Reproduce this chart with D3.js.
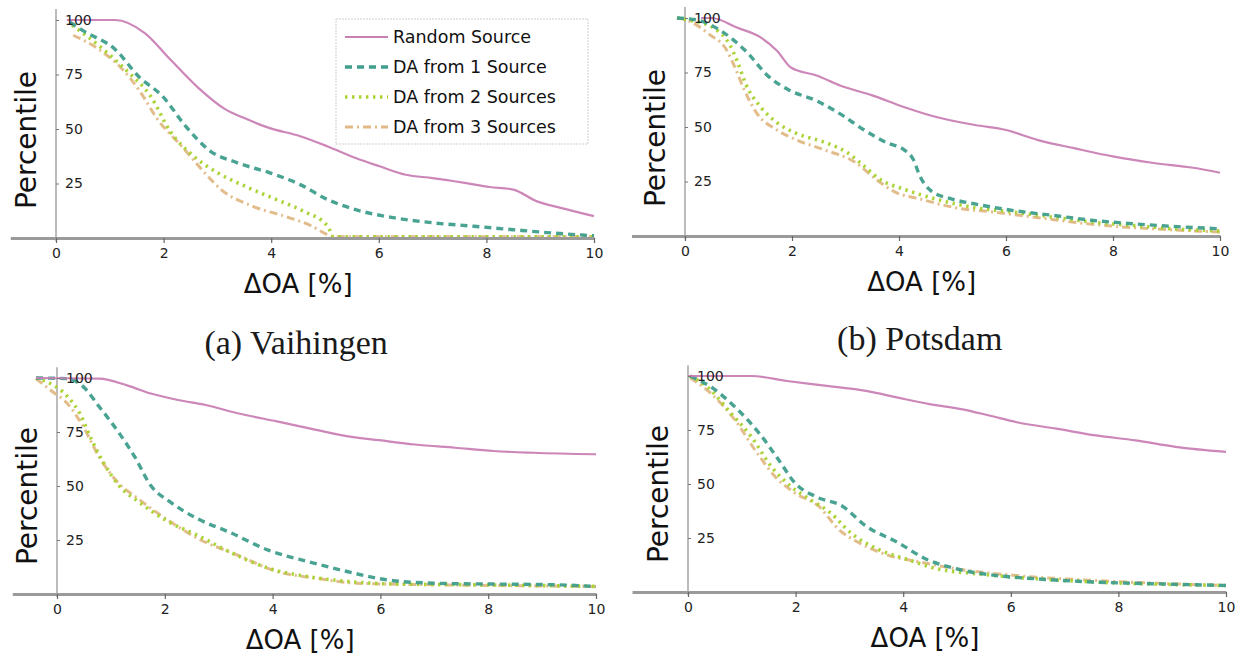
<!DOCTYPE html>
<html>
<head>
<meta charset="utf-8">
<script src="https://cdn.jsdelivr.net/npm/d3@7"></script>
<style>
  html, body { margin: 0; padding: 0; background: #ffffff; }
  svg { display: block; }
</style>
</head>
<body>
<svg class="d3-percentile-svg"></svg>
<script>
/* -------------------------------------------------------------------------- */
/*                        Percentile of ΔOA per dataset                       */
/* -------------------------------------------------------------------------- */

const seriesNames = ['Random Source', 'DA from 1 Source', 'DA from 2 Sources', 'DA from 3 Sources'];
const xTicks = [0, 2, 4, 6, 8, 10];
const yTicks = [25, 50, 75, 100];
const captions = ['(a) Vaihingen', '(b) Potsdam', '', ''];

// [ΔOA %, percentile]
const vaihRandom = [[0.2, 100], [1.1, 100], [1.65, 94], [2.12, 82], [2.64, 69], [3.15, 59], [3.5, 55], [3.96, 50.5], [4.54, 46.7], [5.05, 42], [5.57, 36.7], [6.0, 33], [6.5, 29], [7.0, 27.5], [7.6, 25.3], [8.06, 23.4], [8.5, 22.2], [8.94, 16.8], [9.38, 13.8], [10, 10]];
const vaihDa1 = [[0.26, 99], [0.51, 95], [1.1, 86.5], [1.54, 74], [1.98, 65], [2.42, 51], [2.86, 40], [3.37, 34.5], [3.96, 30], [4.54, 24.5], [5.05, 17.6], [5.57, 13], [6.3, 9.2], [7.03, 6.9], [7.77, 5.4], [8.5, 3.8], [9.23, 2.3], [10, 1]];
const vaihDa2 = [[0.3, 97.7], [0.88, 86.5], [1.32, 76.6], [1.76, 65], [2.12, 49], [2.56, 37.5], [3.0, 30], [3.52, 23.7], [4.1, 17.6], [4.6, 12.3], [5.05, 5.4], [5.16, 0.6], [10, 0.6]];
const vaihDa3 = [[0.32, 93], [0.8, 86.5], [1.25, 77], [1.54, 68], [1.9, 54], [2.34, 42], [2.71, 31.4], [3.08, 22], [3.66, 14.5], [4.25, 10], [4.76, 5.4], [5.05, 1.5], [5.2, 0.6], [10, 0.6]];

const potsRandom = [[0.3, 100], [0.5, 100], [0.98, 95.5], [1.42, 91], [1.72, 85], [1.98, 77.3], [2.46, 73.6], [2.9, 69], [3.5, 64.5], [4.09, 59.2], [4.68, 54.7], [5.42, 50.9], [6.0, 48.6], [6.6, 44], [7.27, 40.3], [8.0, 36.5], [8.76, 33.5], [9.5, 31.3], [10, 29]];
const potsDa1 = [[-0.15, 100], [0.24, 99], [0.68, 94], [1.13, 85], [1.57, 73], [1.94, 67], [2.46, 62], [2.9, 56], [3.35, 48.6], [3.79, 42.6], [4.09, 39.6], [4.27, 35], [4.39, 27.5], [4.6, 20.7], [4.98, 17], [5.42, 14.7], [6.16, 11.6], [6.9, 9.4], [7.64, 7.1], [8.39, 5.6], [9.13, 4.4], [10, 3.3]];
const potsDa2 = [[-0.15, 100], [0.09, 99], [0.53, 95.5], [0.83, 88], [0.98, 80], [1.13, 70], [1.42, 59], [1.72, 52], [2.09, 47], [2.61, 43], [3.05, 38], [3.35, 32], [3.64, 26], [4.09, 21.5], [4.68, 17], [5.42, 13], [6.16, 10.9], [6.9, 8.6], [7.64, 6.3], [8.39, 4.8], [9.13, 3.3], [10, 2.3]];
const potsDa3 = [[-0.15, 100], [0.09, 98.5], [0.46, 92.4], [0.76, 86], [0.94, 77], [1.09, 68], [1.35, 56], [1.72, 48.6], [2.09, 44], [2.61, 39.5], [3.2, 33.5], [3.57, 26], [3.94, 20], [4.39, 17], [5.05, 13], [5.8, 10.9], [6.53, 8.6], [7.27, 6.3], [8.0, 4.5], [8.76, 3.3], [10, 1.8]];

const thirdRandom = [[-0.39, 100], [0.78, 99.7], [1.3, 96.6], [1.74, 92.8], [2.25, 89.8], [2.76, 87.5], [3.35, 83.7], [4.08, 79.9], [4.81, 76], [5.4, 73], [5.98, 71.2], [6.64, 69.2], [7.38, 67.7], [8.1, 66.2], [8.84, 65.4], [10, 64.7]];
const thirdDa1 = [[-0.39, 100], [0.2, 99.7], [0.49, 95.9], [0.78, 86.8], [1.15, 74.6], [1.44, 63.6], [1.74, 50.2], [2.1, 42.6], [2.62, 34.7], [3.2, 28.6], [3.93, 20.2], [4.67, 14.9], [5.4, 10.3], [6.13, 6.5], [7.0, 5.0], [8.1, 4.6], [9.2, 4.3], [10, 3.5]];
const thirdDa2 = [[-0.39, 100], [-0.17, 98], [0.2, 91.3], [0.42, 83.7], [0.64, 71.5], [0.86, 60.9], [1.15, 50.2], [1.52, 42.6], [2.03, 34], [2.62, 27], [3.2, 19.5], [3.93, 11.9], [4.67, 8], [5.4, 5.8], [6.28, 4.6], [7.74, 4.3], [10, 3.5]];
const thirdDa3 = [[-0.39, 99.7], [-0.1, 94], [0.2, 88], [0.49, 77.3], [0.78, 63.6], [1.08, 53], [1.52, 43.8], [2.03, 34.7], [2.62, 25.6], [3.35, 18], [4.08, 10.4], [4.81, 7.3], [5.55, 5], [7.0, 4.3], [10, 3.5]];

const fourthRandom = [[0, 100], [1.18, 100], [1.84, 97.7], [2.58, 95.4], [3.31, 93.1], [3.9, 90], [4.49, 87], [5.08, 84.7], [5.6, 81.7], [6.11, 78.6], [6.85, 75.6], [7.58, 72.5], [8.32, 70.2], [9.06, 67.2], [10, 64.9]];
const fourthDa1 = [[0.04, 100], [0.44, 94.7], [0.88, 85.5], [1.33, 73.3], [1.69, 61], [1.99, 50.4], [2.36, 44.3], [2.87, 39.7], [3.31, 30.5], [3.9, 22.9], [4.42, 15.3], [5.0, 10.7], [5.74, 7.6], [6.48, 6.1], [7.58, 4.6], [8.69, 3.8], [10, 3]];
const fourthDa2 = [[0.04, 100], [0.37, 94.7], [0.81, 82.4], [1.18, 71.8], [1.55, 58], [1.91, 48.9], [2.28, 42.7], [2.65, 36.6], [3.02, 27.5], [3.53, 19.8], [4.05, 15.3], [4.64, 10.7], [5.38, 8.4], [6.48, 6.1], [7.58, 4.6], [10, 3]];
const fourthDa3 = [[0.04, 99.2], [0.44, 91.6], [0.88, 79.4], [1.25, 65.6], [1.62, 53.4], [1.99, 45.8], [2.43, 39.7], [2.8, 29], [3.17, 22.9], [3.75, 16.8], [4.34, 13.7], [5.0, 10.7], [6.11, 7.6], [7.58, 5.3], [10, 3]];

const width = 1244;
const height = 657;

const seriesStyles = [
  { color: '#c97fb4', width: 2.2, dash: null },
  { color: '#3f9e8c', width: 3.4, dash: '7,5' },
  { color: '#a8d22e', width: 3.6, dash: '2.4,4.6' },
  { color: '#e0b985', width: 3, dash: '8,4,2,4' },
];

// pixel frame of each panel: where x=0, x=10, y=0, y=100 land
const panels = [
  { series: [vaihRandom, vaihDa1, vaihDa2, vaihDa3], x0: 56, x10: 594, y0: 238, y100: 20, xMin: -0.85, legend: true, caption: captions[0], capY: 354 },
  { series: [potsRandom, potsDa1, potsDa2, potsDa3], x0: 685, x10: 1220, y0: 236, y100: 18, xMin: -1.0, legend: false, caption: captions[1], capY: 350 },
  { series: [thirdRandom, thirdDa1, thirdDa2, thirdDa3], x0: 57, x10: 596, y0: 594, y100: 378, xMin: -0.83, legend: false, caption: captions[2] },
  { series: [fourthRandom, fourthDa1, fourthDa2, fourthDa3], x0: 688, x10: 1226, y0: 592, y100: 376, xMin: -1.04, legend: false, caption: captions[3] },
];

const svg = d3.select('.d3-percentile-svg')
  .attr('width', width)
  .attr('height', height)
  .style('font-family', '"DejaVu Sans", Verdana, sans-serif');

const drawPanel = (p) => {
  const unit = (p.x10 - p.x0) / 10;
  const x = d3.scaleLinear().domain([p.xMin, 10]).range([p.x0 + p.xMin * unit, p.x10]);
  const y = d3.scaleLinear().domain([0, 100]).range([p.y0, p.y100]);
  const g = svg.append('g');

  const line = d3.line()
    .curve(d3.curveMonotoneX)
    .x((d) => x(d[0]))
    .y((d) => y(d[1]));

  // y axis line at x = 0, ticks pointing inside, labels right of it
  g.append('line')
    .attr('x1', x(0)).attr('x2', x(0))
    .attr('y1', y(0) + 3).attr('y2', y(105))
    .attr('stroke', '#8f8f8f')
    .attr('stroke-width', 1.2);

  // series, drawn in reverse so Random Source stays on top
  p.series.map((data, i) => ({ data, i })).reverse().forEach(({ data, i }) => {
    const s = seriesStyles[i];
    g.append('path')
      .datum(data)
      .attr('fill', 'none')
      .attr('stroke', s.color)
      .attr('stroke-width', s.width)
      .attr('stroke-dasharray', s.dash)
      .attr('opacity', 0.95)
      .attr('d', line);
  });

  const yAxis = g.append('g')
    .attr('transform', `translate(${x(0)},0)`)
    .call(d3.axisRight(y).tickValues(yTicks).tickSize(3).tickPadding(6));
  yAxis.select('.domain').remove();
  yAxis.selectAll('line').attr('stroke', '#777');
  yAxis.selectAll('text')
    .style('font-size', '14px')
    .style('fill', '#222')
    .style('font-family', '"DejaVu Sans", sans-serif');

  const xAxis = g.append('g')
    .attr('transform', `translate(0,${y(0)})`)
    .call(d3.axisBottom(x).tickValues(xTicks).tickSizeInner(5).tickSizeOuter(0).tickPadding(5));
  xAxis.select('.domain')
    .attr('stroke', '#9a9a9a')
    .attr('stroke-width', 2.8);
  xAxis.selectAll('.tick line').attr('stroke', '#666').attr('stroke-width', 1.2);
  xAxis.selectAll('text')
    .style('font-size', '14px')
    .style('fill', '#222')
    .style('font-family', '"DejaVu Sans", sans-serif');

  // axis titles
  g.append('text')
    .attr('transform', `translate(${p.x0 - 20},${p.y0 - 98}) rotate(-90)`)
    .attr('text-anchor', 'middle')
    .style('font-size', '28px')
    .style('fill', '#111')
    .text('Percentile');

  const xMid = (x.range()[0] + x.range()[1]) / 2;
  g.append('text')
    .attr('x', xMid - 4)
    .attr('y', p.y0 + 55)
    .attr('text-anchor', 'middle')
    .style('font-size', '26px')
    .style('fill', '#111')
    .text('ΔOA [%]');

  if (p.caption) {
    g.append('text')
      .attr('x', xMid - 6)
      .attr('y', p.capY)
      .attr('text-anchor', 'middle')
      .style('font-family', '"Liberation Serif", "Times New Roman", serif')
      .style('font-size', '34px')
      .style('fill', '#1a1a1a')
      .text(p.caption);
  }

  if (p.legend) {
    const lg = g.append('g').attr('transform', 'translate(336,19)');
    lg.append('rect')
      .attr('width', 252)
      .attr('height', 125)
      .attr('fill', '#fff')
      .attr('fill-opacity', 0.85)
      .attr('stroke', '#cfcfcf')
      .attr('stroke-dasharray', '2,1')
      .attr('stroke-width', 1);

    const item = lg.selectAll('.legend-item')
      .data(seriesNames)
      .enter()
      .append('g')
      .attr('class', 'legend-item')
      .attr('transform', (d, i) => `translate(0,${18 + i * 30})`);

    item.append('line')
      .attr('x1', 9).attr('x2', 52)
      .attr('stroke', (d, i) => seriesStyles[i].color)
      .attr('stroke-width', (d, i) => seriesStyles[i].width)
      .attr('stroke-dasharray', (d, i) => seriesStyles[i].dash);

    item.append('text')
      .attr('x', 57)
      .attr('dy', '0.35em')
      .style('font-size', '17.5px')
      .style('fill', '#111')
      .text((d) => d);
  }
};

panels.forEach(drawPanel);
</script>
</body>
</html>
